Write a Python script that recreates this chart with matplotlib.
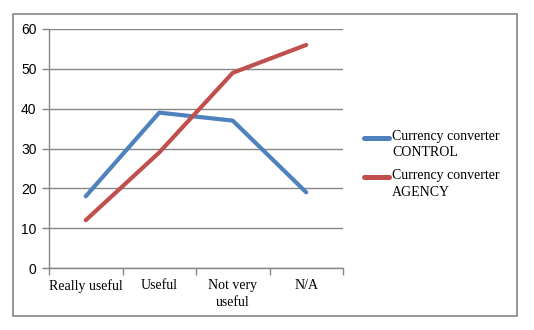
import matplotlib
matplotlib.use("Agg")
import matplotlib.pyplot as plt
from matplotlib.patches import Rectangle
from matplotlib.lines import Line2D

# survey responses per category
categories = ["Really useful", "Useful", "Not very\nuseful", "N/A"]
control = [18, 39, 37, 19]
agency = [12, 29, 49, 56]
series_names = ["Currency converter\nCONTROL", "Currency converter\nAGENCY"]
yticks = [0, 10, 20, 30, 40, 50, 60]

grey = "#868686"
serif = "Liberation Serif"
colors = ["#4F81BD", "#C0504D"]

W, H = 534, 330
fig = plt.figure(figsize=(W / 100, H / 100), dpi=100)
ax = fig.add_axes([49 / W, 1 - 268 / H, 294 / W, 239 / H])

# outer chart border
fig.patches.append(Rectangle((13 / W, 1 - 316 / H), 504 / W, 302 / H,
                             transform=fig.transFigure, fill=False,
                             edgecolor=grey, linewidth=1.2))

x = [i + 0.5 for i in range(len(categories))]
for vals, c, name in zip([control, agency], colors, series_names):
    ax.plot(x, vals, color=c, linewidth=3, solid_capstyle="round",
            solid_joinstyle="round", label=name)

ax.set_xlim(0, len(categories))
ax.set_ylim(0, 60)
ax.set_yticks(yticks)
ax.set_yticklabels([str(v) for v in yticks], fontfamily="Liberation Sans", fontsize=10)
ax.yaxis.grid(True, color=grey, linewidth=1)
ax.set_axisbelow(True)

# category labels between the boundary tick marks
ax.set_xticks(range(len(categories) + 1))
ax.set_xticklabels([])
ax.set_xticks(x, minor=True)
ax.set_xticklabels(categories, minor=True, fontfamily=serif, fontsize=10,
                   linespacing=1.35)
ax.tick_params(axis="x", which="minor", length=0, pad=8)
ax.tick_params(axis="x", which="major", length=5, color=grey, width=1)
ax.tick_params(axis="y", length=5, color=grey, width=1, pad=4)

for side in ["top", "right"]:
    ax.spines[side].set_visible(False)
for side in ["left", "bottom"]:
    ax.spines[side].set_color(grey)
    ax.spines[side].set_linewidth(1)

# legend: swatch level with the first line of each label
for i, (c, name) in enumerate(zip(colors, series_names)):
    y = 1 - (138 + 39 * i) / H
    fig.add_artist(Line2D([364 / W, 389 / W], [y, y], color=c, linewidth=3.6,
                          solid_capstyle="round", transform=fig.transFigure))
    fig.text(392 / W, y + 8 / H, name, fontfamily=serif, fontsize=10,
             va="top", ha="left", linespacing=1.35)

fig.savefig("out.png", dpi=100)
